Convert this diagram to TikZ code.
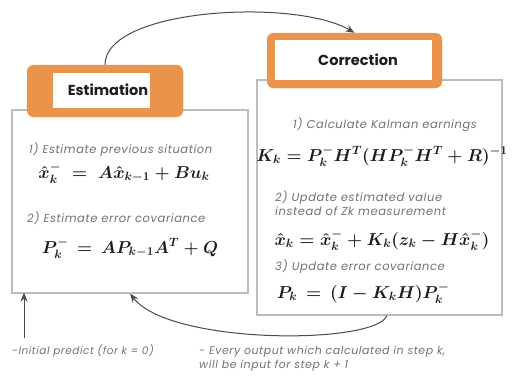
\documentclass[tikz,border=0pt]{standalone}
\usepackage{amsmath}
\usepackage{fontspec}
\setmainfont{Poppins}
\newfontfamily\labfont{Poppins}[LetterSpace=5]
\usetikzlibrary{arrows.meta}
\definecolor{orng}{HTML}{E9944A}
\definecolor{bord}{HTML}{BDBDBD}
\definecolor{lbl}{HTML}{727272}
\definecolor{ink}{HTML}{1E1E1E}
\definecolor{conncol}{HTML}{4A4A4A}
\begin{document}
\begin{tikzpicture}[x=1pt,y=-1pt,
  panel/.style={draw=bord, line width=1.2pt, fill=white, inner sep=0pt},
  tabout/.style={fill=orng, draw=orng, rounded corners=7pt, inner sep=0pt},
  tabin/.style={fill=white, inner sep=0pt},
  head/.style={text=ink, inner sep=0pt, font=\fontsize{14.5}{16}\selectfont\bfseries},
  lab/.style={text=lbl, font=\labfont\fontsize{11.5}{14}\selectfont\itshape, inner sep=0pt, anchor=west, align=left},
  formula/.style={text=ink, inner sep=0pt, font=\fontsize{16.5}{18}\selectfont\boldmath},
  conn/.style={draw=conncol, line width=1pt, -{Stealth[length=9pt,width=7pt]}}]
\useasboundingbox[fill=white] (0,0) rectangle (513,376);
% panels
\node[panel, minimum width=236pt, minimum height=183pt] (lp) at (130,201.5) {};
\node[panel, minimum width=245pt, minimum height=235pt] (rp) at (379.5,197.5) {};
% tabs
\node[tabout, minimum width=156pt, minimum height=52pt] (esttab) at (105,91) {};
\node[tabin, minimum width=97pt, minimum height=35pt] (estin) at (101.5,90.5) {};
\node[head] (est) at (108,90) {Estimation};
\node[tabout, minimum width=175pt, minimum height=55pt] (corrtab) at (354.5,60.5) {};
\node[tabin, minimum width=157pt, minimum height=40pt] (corrin) at (353.5,60) {};
\node[head] (corr) at (358,60) {Correction};
% left content
\node[lab] (t1) at (29,150) {1) Estimate previous situation};
\node[formula] (f1) at (124,173) {$\hat{x}_k^{-} \;=\; A\hat{x}_{k-1} + Bu_k$};
\node[lab] (t2) at (27,218) {2) Estimate error covariance};
\node[formula] (f2) at (130,248) {$P_k^{-} \,=\, AP_{k-1}A^{T} + Q$};
% right content
\node[lab] (t3) at (293,125) {1) Calculate Kalman earnings};
\node[formula] (f3) at (382,156) {$K_k = P_k^{-}H^{T}(HP_k^{-}H^{T} + R)^{-1}$};
\node[lab] (t4) at (275,203) {2) Update estimated value\\instead of Zk measurement};
\node[formula] (f4) at (382,240) {$\hat{x}_k = \hat{x}_k^{-} + K_k(z_k - H\hat{x}_k^{-})$};
\node[lab] (t5) at (275,267) {3) Update error covariance};
\node[formula] (f5) at (363,293) {$P_k \,=\, (I - K_kH)P_k^{-}$};
% bottom labels
\node[lab, font=\labfont\fontsize{10.5}{14}\selectfont\itshape] (n1) at (12,351) {-Initial predict (for k = 0)};
\node[lab, font=\labfont\fontsize{11}{14}\selectfont\itshape] (n2) at (199,359) {- Every output which calculated in step k,\\ will be input for step k + 1};
% connectors
\draw[conn] (esttab.north) .. controls (105,8) and (295,-2) .. (corrtab.north);
\draw[conn] ([xshift=7.5pt]rp.south) .. controls (375,345) and (170,345) .. (lp.south);
\coordinate (init) at (24,338);
\draw[conn] (init) -- ([yshift=1pt]init |- lp.south);
\end{tikzpicture}
\end{document}
